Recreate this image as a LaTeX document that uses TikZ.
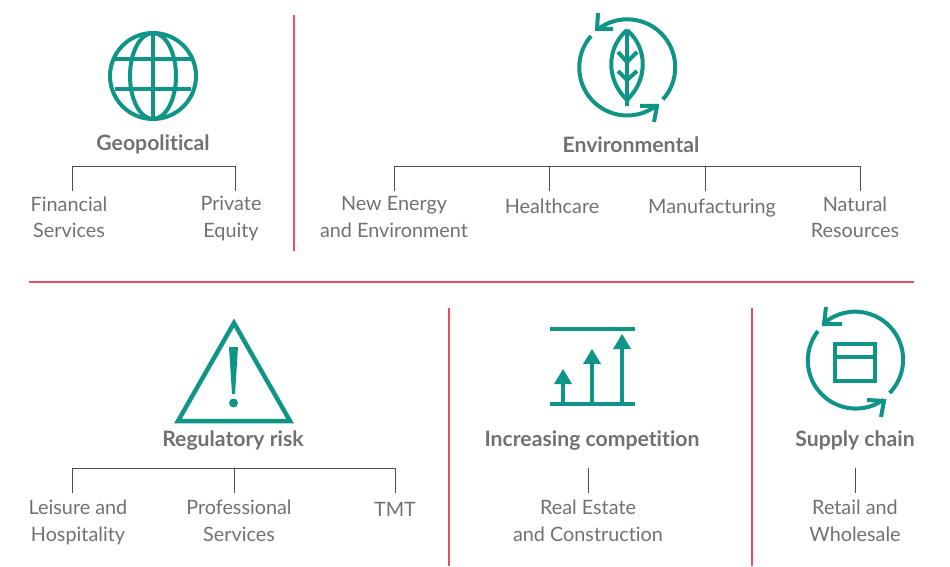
\documentclass[tikz,border=0pt]{standalone}
\usepackage{fontspec}
\setmainfont{Lato}[Ligatures=CommonOff]
\usetikzlibrary{arrows.meta}
\definecolor{iconteal}{HTML}{0F9488}
\definecolor{rulered}{HTML}{EE4B62}
\definecolor{labelgrey}{HTML}{707174}
\tikzset{
	head/.style={text=labelgrey,font=\fontsize{21.2}{26}\selectfont\bfseries,inner sep=0pt,execute at begin node=\strut},
	sector/.style={text=labelgrey,font=\fontsize{19.8}{26.5}\selectfont,align=center,inner sep=0pt,execute at begin node=\strut,execute at end node=\strut},
	bracket/.style={draw=black!70,line width=0.9pt},
	divider/.style={draw=rulered,line width=1.4pt},
	icon/.style={draw=iconteal,line width=4pt},
	iconthin/.style={draw=iconteal,line width=3.5pt}
}
\begin{document}
\begin{tikzpicture}[x=1pt,y=-1pt]
	\useasboundingbox (0,0) rectangle (950,567);
	% dividers
	\coordinate (d1a) at (294,15);
	\coordinate (d1b) at (294,251);
	\coordinate (d2a) at (29,282);
	\coordinate (d2b) at (914,282);
	\coordinate (d3a) at (449,308);
	\coordinate (d3b) at (449,566);
	\coordinate (d4a) at (752,308);
	\coordinate (d4b) at (752,566);
	\draw[divider] (d1a) -- (d1b);
	\draw[divider] (d2a) -- (d2b);
	\draw[divider] (d3a) -- (d3b);
	\draw[divider] (d4a) -- (d4b);
	% globe
	\draw[icon] (153,76) circle (43);
	\draw[icon] (153,76) ellipse (23 and 43);
	\draw[icon] (153,33) -- (153,119);
	\draw[icon] (115,59) -- (191,59);
	\draw[icon] (115,89) -- (191,89);
	% leaf
	\draw[icon] (597,30) arc[start angle=-129,end angle=42,radius=48];
	\draw[icon] (591,36) arc[start angle=-139,end angle=-308,radius=48];
	\draw[icon] (598,13) -- (597,29) -- (613,29);
	\draw[icon] (640,106) -- (657,106) -- (654,122);
	\draw[icon] (627,30) .. controls (606,48) and (606,80) .. (627,100) .. controls (648,80) and (648,48) .. (627,30);
	\draw[icon] (627,30) -- (627,106);
	\draw[icon] (618,52) -- (627,62) -- (637,52);
	\draw[icon] (618,71) -- (627,80) -- (637,71);
	% warning sign
	\draw[icon,line width=4.5pt] (234,323) -- (290,421) -- (178,421) -- cycle;
	\fill[iconteal] (229,347) -- (238,347) -- (235,394) -- (232,394) -- cycle;
	\fill[iconteal] (233.5,403) circle (4.5);
	% rising arrows
	\draw[icon] (550,329) -- (635,329);
	\draw[icon] (550,404) -- (635,404);
	\draw[iconthin] (563,384) -- (563,404);
	\draw[iconthin] (592,364) -- (592,404);
	\draw[iconthin] (622,349) -- (622,404);
	\fill[iconteal] (563,369) -- (572,384) -- (554,384) -- cycle;
	\fill[iconteal] (592,349) -- (601,364) -- (583,364) -- cycle;
	\fill[iconteal] (622,334) -- (631,349) -- (613,349) -- cycle;
	% supply loop
	\draw[icon] (823,324) arc[start angle=-132,end angle=44,radius=48];
	\draw[icon] (818,331) arc[start angle=-142,end angle=-305,radius=48];
	\draw[icon] (826,307) -- (824,324) -- (842,324);
	\draw[icon] (867,400) -- (884,401) -- (881,417);
	\draw[icon] (835,343.5) rectangle (875,381);
	\draw[icon] (835,357) -- (875,357);
	% Geopolitical
	\node[head] (geo) at (153,145) {Geopolitical};
	\node[sector] (finance) at (69,221) {Financial\\Services};
	\node[sector] (equity) at (231,221) {Private\\Equity};
	\coordinate (geoa) at (72,166);
	\coordinate (geob) at (235,166);
	\coordinate (geoc) at (72,191);
	\coordinate (geod) at (235,191);
	\draw[bracket] (geoc) -- (geoa) -- (geob) -- (geod);
	% Environmental
	\node[head] (env) at (631,147) {Environmental};
	\node[sector] (energy) at (394,221) {New Energy\\and Environment};
	\node[sector] (health) at (552,208) {Healthcare};
	\node[sector] (manuf) at (712,208) {Manufacturing};
	\node[sector] (natural) at (855,221) {Natural\\Resources};
	\coordinate (enva) at (394,166);
	\coordinate (envb) at (549,166);
	\coordinate (envc) at (705,166);
	\coordinate (envd) at (860,166);
	\coordinate (enve) at (394,191);
	\coordinate (envf) at (549,191);
	\coordinate (envg) at (705,191);
	\coordinate (envh) at (860,191);
	\draw[bracket] (enve) -- (enva) -- (envd) -- (envh);
	\draw[bracket] (envb) -- (envf);
	\draw[bracket] (envc) -- (envg);
	% Regulatory risk
	\node[head] (reg) at (233,441) {Regulatory risk};
	\node[sector] (leisure) at (78,524.5) {Leisure and\\Hospitality};
	\node[sector] (prof) at (239,524.5) {Professional\\Services};
	\node[sector] (tmt) at (395,511) {TMT};
	\coordinate (rega) at (72,468);
	\coordinate (regb) at (234,468);
	\coordinate (regc) at (395,468);
	\coordinate (regd) at (72,493);
	\coordinate (rege) at (234,493);
	\coordinate (regf) at (395,493);
	\draw[bracket] (regd) -- (rega) -- (regc) -- (regf);
	\draw[bracket] (regb) -- (rege);
	% Increasing competition
	\node[head] (comp) at (592,441) {Increasing competition};
	\node[sector] (estate) at (588,524.5) {Real Estate\\and Construction};
	\coordinate (compa) at (588,468);
	\coordinate (compb) at (588,493);
	\draw[bracket] (compa) -- (compb);
	% Supply chain
	\node[head] (supply) at (855,441) {Supply chain};
	\node[sector] (retail) at (855,524.5) {Retail and\\Wholesale};
	\coordinate (supa) at (855,468);
	\coordinate (supb) at (855,493);
	\draw[bracket] (supa) -- (supb);
\end{tikzpicture}
\end{document}
